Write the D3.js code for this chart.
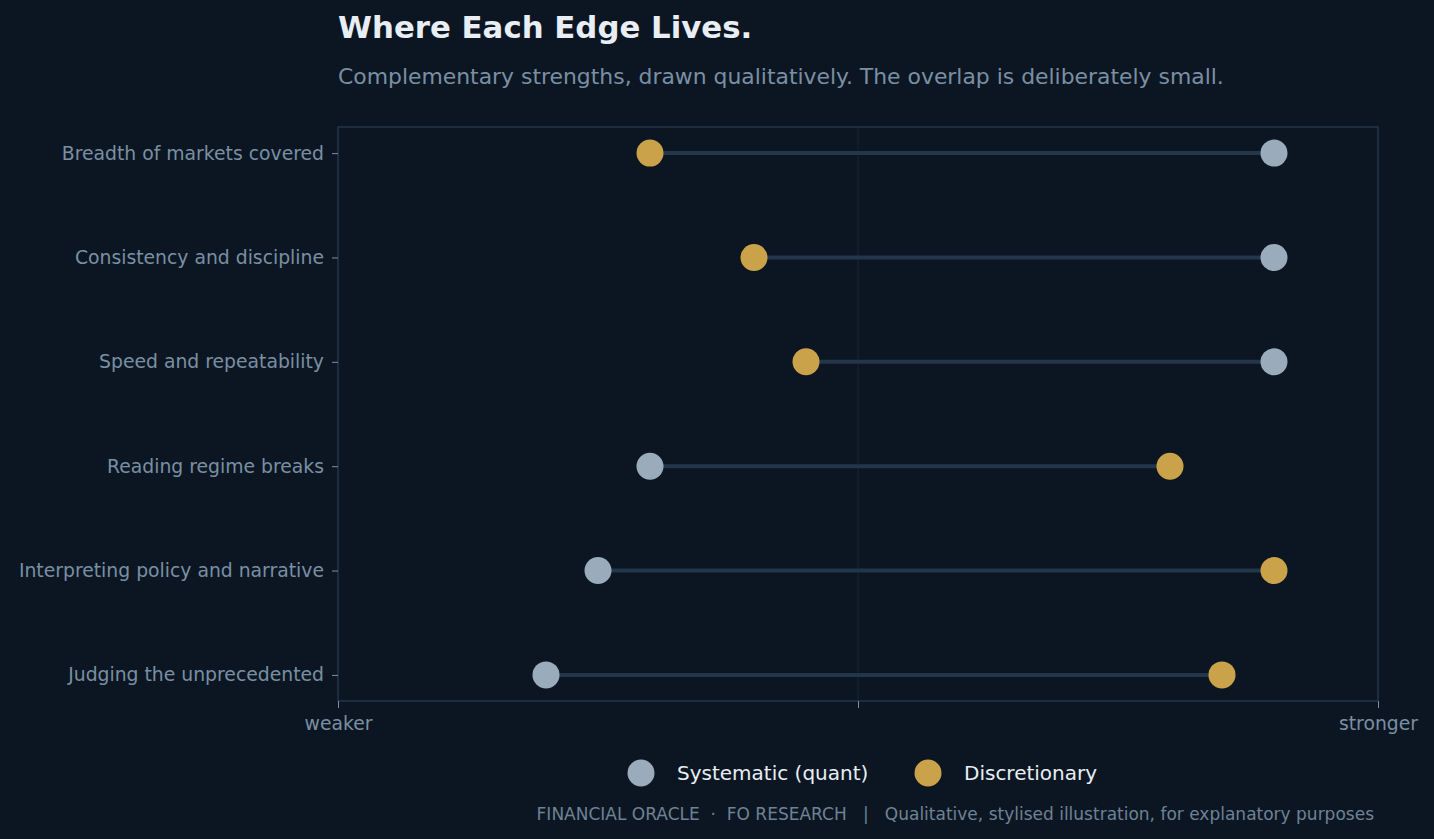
<!DOCTYPE html>
<html>
<head>
<meta charset="utf-8">
<script src="https://cdn.jsdelivr.net/npm/d3@7"></script>
<style>
  body { margin: 0; background: #0b1622; }
  svg { display: block; font-family: "DejaVu Sans", sans-serif; }
</style>
</head>
<body>
<svg class="chart"></svg>
<script>
const size = { w: 1434, h: 839 };
const margin = { top: 127, right: 56, bottom: 138, left: 338 };

// chart data, scores 0 (weaker) to 1 (stronger)
const categories = [
	"Breadth of markets covered",
	"Consistency and discipline",
	"Speed and repeatability",
	"Reading regime breaks",
	"Interpreting policy and narrative",
	"Judging the unprecedented",
];
const quantValues = [0.9, 0.9, 0.9, 0.3, 0.25, 0.2];
const discValues = [0.3, 0.4, 0.45, 0.8, 0.9, 0.85];
const xTickValues = [0, 0.5, 1];
const xTickLabels = ["weaker", "", "stronger"];
const seriesNames = ["Systematic (quant)", "Discretionary"];
const seriesColors = ["#9aabbb", "#c9a24a"];

const svg = d3.select("svg.chart").attr("width", size.w).attr("height", size.h);
svg.append("rect").attr("width", size.w).attr("height", size.h).attr("fill", "#0b1622");

const x = d3.scaleLinear().domain([0, 1]).range([margin.left, size.w - margin.right]);
const y = d3.scalePoint().domain(categories).range([margin.top, size.h - margin.bottom]).padding(0.25);

// title block
svg.append("text").attr("x", margin.left).attr("y", 38)
	.attr("fill", "#e8eef4").attr("font-size", 30.8).attr("font-weight", "bold")
	.text("Where Each Edge Lives.");
svg.append("text").attr("x", margin.left).attr("y", 84)
	.attr("fill", "#7a8fa3").attr("font-size", 21.9)
	.text("Complementary strengths, drawn qualitatively. The overlap is deliberately small.");

// mid gridline
svg.append("line").attr("x1", x(0.5)).attr("x2", x(0.5))
	.attr("y1", margin.top).attr("y2", size.h - margin.bottom)
	.attr("stroke", "#172433").attr("stroke-width", 1);

// frame
svg.append("rect").attr("x", margin.left).attr("y", margin.top)
	.attr("width", x(1) - x(0)).attr("height", size.h - margin.bottom - margin.top)
	.attr("fill", "none").attr("stroke", "#24364a").attr("stroke-width", 1.5);

// x axis
const xAxis = svg.append("g").attr("transform", `translate(0,${size.h - margin.bottom})`)
	.call(d3.axisBottom(x).tickValues(xTickValues).tickFormat((d, i) => xTickLabels[i]).tickSize(7).tickPadding(9));
xAxis.select(".domain").remove();
xAxis.selectAll("line").attr("stroke", "#7a8fa3");
xAxis.selectAll("text").attr("fill", "#7a8fa3").attr("font-size", 18.8).attr("font-family", "DejaVu Sans");

// y axis
const yAxis = svg.append("g").attr("transform", `translate(${margin.left},0)`)
	.call(d3.axisLeft(y).tickSize(6).tickPadding(8));
yAxis.select(".domain").remove();
yAxis.selectAll("line").attr("stroke", "#7a8fa3");
yAxis.selectAll("text").attr("fill", "#7a8fa3").attr("font-size", 18.8).attr("font-family", "DejaVu Sans");

// connectors
svg.append("g").selectAll("line").data(categories).join("line")
	.attr("x1", (d, i) => x(quantValues[i]))
	.attr("x2", (d, i) => x(discValues[i]))
	.attr("y1", d => y(d)).attr("y2", d => y(d))
	.attr("stroke", "#24364a").attr("stroke-width", 4);

// dots
[quantValues, discValues].forEach((vals, s) => {
	svg.append("g").selectAll("circle").data(categories).join("circle")
		.attr("cx", (d, i) => x(vals[i]))
		.attr("cy", d => y(d))
		.attr("r", 13.5)
		.attr("fill", seriesColors[s]);
});

// legend
const legend = svg.append("g").attr("transform", "translate(641,773)");
seriesNames.forEach((name, i) => {
	const g = legend.append("g").attr("transform", `translate(${i * 287},0)`);
	g.append("circle").attr("r", 13.5).attr("fill", seriesColors[i]);
	g.append("text").attr("x", 36).attr("y", 7).attr("fill", "#e8eef4")
		.attr("font-size", 20).text(name);
});

// footer
svg.append("text").attr("x", 1374).attr("y", 820).attr("text-anchor", "end")
	.attr("fill", "#6f8295").attr("font-size", 17)
	.text("FINANCIAL ORACLE  ·  FO RESEARCH   |   Qualitative, stylised illustration, for explanatory purposes")
	.attr("xml:space", "preserve").style("white-space", "pre");
</script>
</body>
</html>
